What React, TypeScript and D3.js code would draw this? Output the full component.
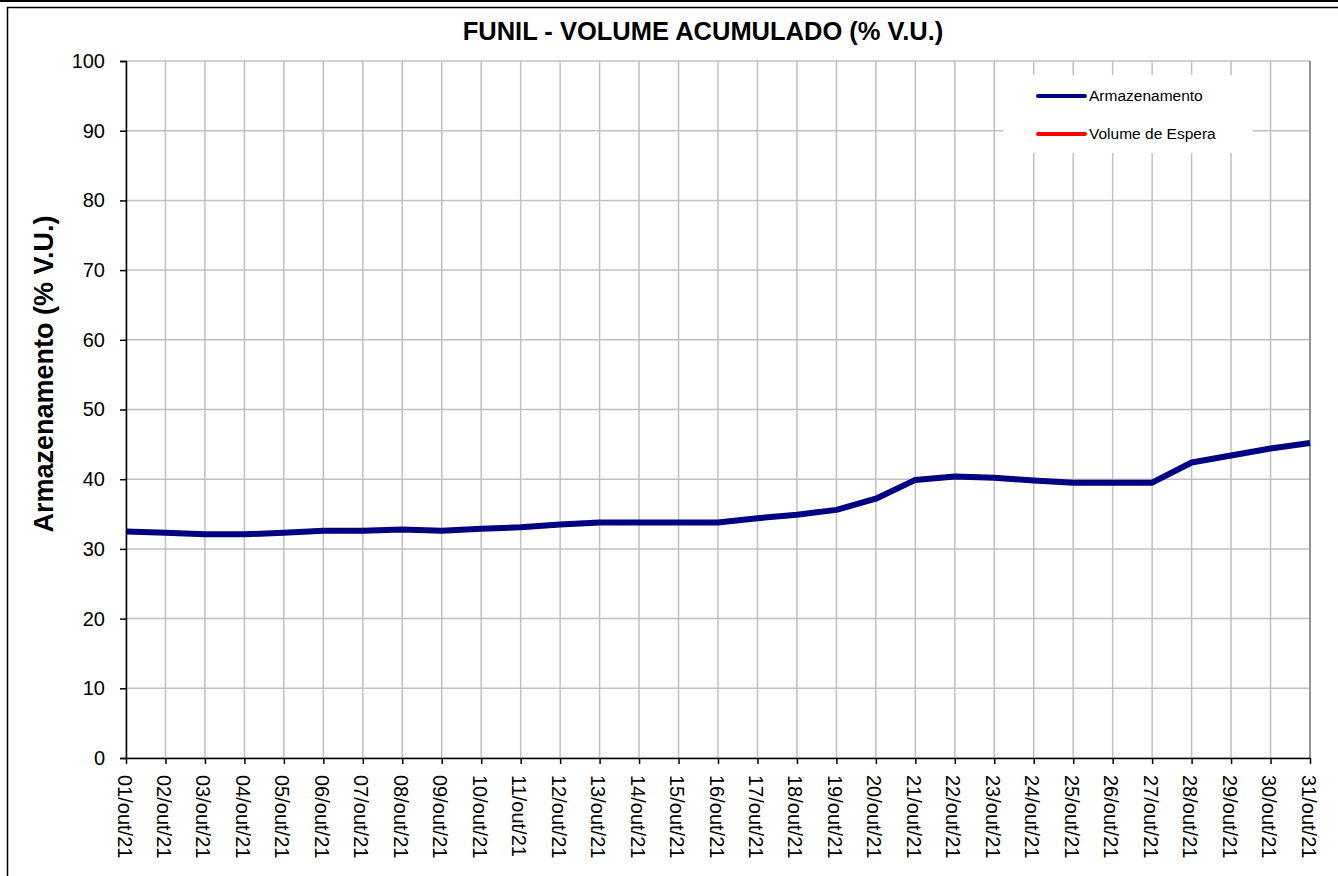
import React, { useEffect, useRef } from "react";
import * as d3 from "d3";

const days = [
  "01/out/21", "02/out/21", "03/out/21", "04/out/21", "05/out/21", "06/out/21",
  "07/out/21", "08/out/21", "09/out/21", "10/out/21", "11/out/21", "12/out/21",
  "13/out/21", "14/out/21", "15/out/21", "16/out/21", "17/out/21", "18/out/21",
  "19/out/21", "20/out/21", "21/out/21", "22/out/21", "23/out/21", "24/out/21",
  "25/out/21", "26/out/21", "27/out/21", "28/out/21", "29/out/21", "30/out/21",
  "31/out/21",
];

const armazenamento = [
  32.5, 32.3, 32.1, 32.1, 32.3, 32.6, 32.6, 32.8, 32.6, 32.9, 33.1, 33.5,
  33.8, 33.8, 33.8, 33.8, 34.4, 34.9, 35.6, 37.2, 39.9, 40.4, 40.2, 39.8,
  39.5, 39.5, 39.5, 42.4, 43.4, 44.4, 45.2,
];

const yTicks = [0, 10, 20, 30, 40, 50, 60, 70, 80, 90, 100];

const legendItems = [
  { label: "Armazenamento", color: "#000080" },
  { label: "Volume de Espera", color: "#ff0000" },
];

const W = 1338;
const H = 876;
const margin = { left: 126, right: 28, top: 61, bottom: 118 };
const font = "Arial, 'Liberation Sans', sans-serif";

const App = () => {
  const svgRef = useRef(null);

  const x = d3
    .scalePoint()
    .domain(days)
    .range([margin.left, W - margin.right]);

  const y = d3
    .scaleLinear()
    .domain([0, 100])
    .range([H - margin.bottom, margin.top]);

  const line = d3
    .line<number>()
    .x((d, i) => x(days[i]))
    .y((d) => y(d));

  useEffect(() => {
    const svg = d3.select(svgRef.current);

    const yAxis = svg
      .select(".y-axis")
      .attr("transform", `translate(${margin.left}, 0)`)
      .call(d3.axisLeft(y).tickValues(yTicks).tickSize(6).tickPadding(15));
    yAxis.select(".domain").attr("stroke", "#000").attr("stroke-width", 1.5);
    yAxis.selectAll(".tick line").attr("stroke", "#000").attr("stroke-width", 1.5);
    yAxis
      .selectAll("text")
      .attr("font-size", "20px")
      .attr("font-family", font)
      .attr("fill", "#000");

    const xAxis = svg
      .select(".x-axis")
      .attr("transform", `translate(0, ${H - margin.bottom})`)
      .call(d3.axisBottom(x).tickSize(6).tickSizeOuter(0));
    xAxis.select(".domain").attr("stroke", "#000").attr("stroke-width", 1.5);
    xAxis.selectAll(".tick line").attr("stroke", "#000").attr("stroke-width", 1.5);
    xAxis
      .selectAll("text")
      .attr("font-size", "20px")
      .attr("font-family", font)
      .attr("fill", "#000")
      .attr("transform", "rotate(90)")
      .attr("text-anchor", "start")
      .attr("dy", "9px")
      .attr("x", 17)
      .attr("y", 0);
  }, []);

  return (
    <svg
      ref={svgRef}
      width={W}
      height={H}
      style={{ position: "absolute", left: 0, top: 0, background: "#fff" }}
    >
      <rect x={0} y={0} width={W} height={H} fill="#fff" />
      <line x1={0} x2={W} y1={1} y2={1} stroke="#000" strokeWidth={2} />
      <rect x={7.5} y={7.5} width={W} height={H} fill="none" stroke="#000" strokeWidth={1.5} />

      <text
        x={703}
        y={40}
        textAnchor="middle"
        fontFamily={font}
        fontWeight="bold"
        fontSize="25.5px"
      >
        FUNIL - VOLUME ACUMULADO (% V.U.)
      </text>

      {/* grid */}
      {yTicks.map((t) => (
        <line
          key={"gy" + t}
          x1={margin.left}
          x2={W - margin.right}
          y1={y(t)}
          y2={y(t)}
          stroke="#c0c0c0"
          strokeWidth={1.5}
        />
      ))}
      {days.map((d) => (
        <line
          key={"gx" + d}
          x1={x(d)}
          x2={x(d)}
          y1={y(0)}
          y2={y(100)}
          stroke="#c0c0c0"
          strokeWidth={1.5}
        />
      ))}
      <line
        x1={W - margin.right}
        x2={W - margin.right}
        y1={y(0)}
        y2={y(100)}
        stroke="#808080"
        strokeWidth={1.5}
      />

      {/* legend */}
      <rect x={1003} y={75} width={250} height={78} fill="#fff" />
      {legendItems.map((item, i) => (
        <g key={item.label} transform={`translate(1038, ${96 + i * 38})`}>
          <line x1={0} x2={47} y1={0} y2={0} stroke={item.color} strokeWidth={4} strokeLinecap="round" />
          <text x={51} y={0} dy="0.35em" fontFamily={font} fontSize="15.5px" fill="#000">
            {item.label}
          </text>
        </g>
      ))}

      <path d={line(armazenamento)} fill="none" stroke="#000080" strokeWidth={6} strokeLinejoin="round" />

      <g className="x-axis" />
      <g className="y-axis" />

      <text
        transform={`translate(53, 374) rotate(-90)`}
        textAnchor="middle"
        fontFamily={font}
        fontWeight="bold"
        fontSize="27px"
      >
        Armazenamento (% V.U.)
      </text>
    </svg>
  );
};

export default App;
